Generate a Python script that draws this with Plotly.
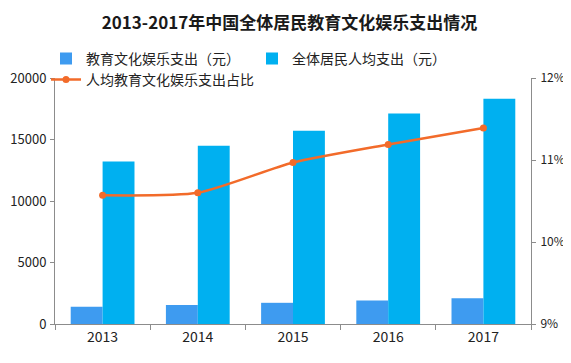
import plotly.graph_objects as go

years = ["2013", "2014", "2015", "2016", "2017"]
edu_spend = [1398, 1536, 1723, 1915, 2086]
total_spend = [13220, 14491, 15712, 17111, 18322]
edu_ratio = [10.57, 10.60, 10.97, 11.19, 11.39]

font_cn = "Noto Sans CJK SC"

fig = go.Figure()
fig.add_trace(go.Bar(x=years, y=edu_spend, name="教育文化娱乐支出（元）",
                     marker=dict(color="#3E9BF0", line=dict(width=0))))
fig.add_trace(go.Bar(x=years, y=total_spend, name="全体居民人均支出（元）",
                     marker=dict(color="#00B0F0", line=dict(width=0))))
fig.add_trace(go.Scatter(x=years, y=edu_ratio, name="人均教育文化娱乐支出占比",
                         yaxis="y2", mode="lines+markers",
                         line=dict(color="#F26B2A", width=2.5, shape="spline", smoothing=0.6),
                         marker=dict(color="#F26B2A", size=7)))

# page has an 8px body margin, so the figure is sized to fit the window
fig.update_layout(
    width=563, height=355,
    margin=dict(l=47, r=40, t=70, b=39, autoexpand=False),
    paper_bgcolor="white", plot_bgcolor="white",
    font=dict(family=font_cn, size=12, color="#222"),
    title=dict(text="<b>2013-2017年中国全体居民教育文化娱乐支出情况</b>",
               x=0.5, xanchor="center", y=0.959, yanchor="middle",
               font=dict(family=font_cn, size=17, color="#1a1a1a")),
    barmode="group", bargap=0.33, bargroupgap=0,
    showlegend=True,
    legend=dict(orientation="h", xref="container", yref="container",
                x=0.0675, xanchor="left", y=0.902, yanchor="top",
                entrywidth=161, entrywidthmode="pixels",
                font=dict(family=font_cn, size=14, color="#222"),
                bgcolor="rgba(0,0,0,0)", itemwidth=30, tracegroupgap=0),
    xaxis=dict(showline=True, linecolor="#8c8c8c", linewidth=1,
               ticks="outside", tickson="boundaries", ticklen=5, tickcolor="#8c8c8c",
               showgrid=False, tickfont=dict(size=14)),
    yaxis=dict(range=[0, 20000], dtick=5000, tickformat="d", showline=True, linecolor="#8c8c8c",
               ticks="outside", ticklen=4, tickcolor="#8c8c8c", ticklabelstandoff=1,
               showgrid=False, zeroline=False, tickfont=dict(size=13)),
    yaxis2=dict(range=[9, 12], dtick=1, overlaying="y", side="right",
                ticksuffix="%", showline=True, linecolor="#8c8c8c",
                ticks="outside", ticklen=4, tickcolor="#8c8c8c", ticklabelstandoff=2,
                showgrid=False, zeroline=False, tickfont=dict(size=12)),
)

fig.write_html("out.html")
